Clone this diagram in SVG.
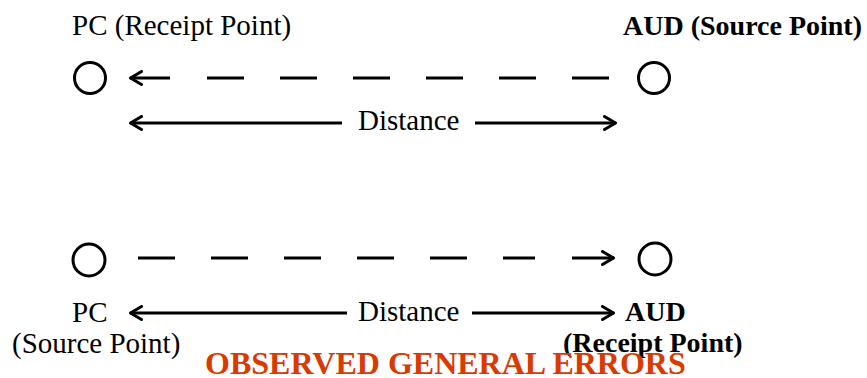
<svg xmlns="http://www.w3.org/2000/svg" width="867" height="378" viewBox="0 0 867 378">
<defs>
<style>
.t{font-family:"Liberation Serif","Times New Roman",serif;font-size:29px;fill:#000}
.b{font-weight:bold;font-size:28px}
.title{font-family:"Liberation Serif","Times New Roman",serif;font-weight:bold;font-size:32px;fill:#d93a00}
.node{fill:none;stroke:#000;stroke-width:3}
.ln{stroke:#000;stroke-width:3;fill:none}
.dash{stroke:#000;stroke-width:3;fill:none;stroke-dasharray:37 36}
</style>
<marker id="ah" viewBox="0 0 14 16" refX="13" refY="8" markerWidth="14" markerHeight="16" markerUnits="userSpaceOnUse" orient="auto">
<path d="M1.5,1.5 L12.5,8 L1.5,14.5" fill="none" stroke="#000" stroke-width="3" stroke-linecap="round" stroke-linejoin="round"/>
</marker>
</defs>
<rect width="867" height="378" fill="#fff"/>
<g id="pc-top">
<circle class="node" cx="90" cy="78" r="15.5"/>
<text class="t" x="72" y="35">PC (Receipt Point)</text>
</g>
<g id="aud-top">
<circle class="node" cx="654" cy="78" r="15.5"/>
<text class="t b" x="623" y="35">AUD (Source Point)</text>
</g>
<g id="pc-bottom">
<circle class="node" cx="89" cy="260" r="16"/>
<text class="t" x="72" y="322">PC</text>
<text class="t" x="12" y="353">(Source Point)</text>
</g>
<g id="aud-bottom">
<circle class="node" cx="655" cy="259" r="16"/>
<text class="t b" x="625" y="321">AUD</text>
<text class="t b" x="563" y="352">(Receipt Point)</text>
</g>
<g id="connectors">
<line class="ln" x1="170" y1="78" x2="130" y2="78" marker-end="url(#ah)"/>
<line class="dash" x1="207" y1="78" x2="609" y2="78"/>
<line class="ln" x1="342" y1="123" x2="130" y2="123" marker-end="url(#ah)"/>
<line class="ln" x1="475" y1="123" x2="616" y2="123" marker-end="url(#ah)"/>
<line class="dash" x1="138" y1="258" x2="535" y2="258"/>
<line class="ln" x1="572" y1="258" x2="614" y2="258" marker-end="url(#ah)"/>
<line class="ln" x1="347" y1="313" x2="130" y2="313" marker-end="url(#ah)"/>
<line class="ln" x1="472" y1="313" x2="614" y2="313" marker-end="url(#ah)"/>
</g>
<g id="labels">
<text class="t" x="358" y="130">Distance</text>
<text class="t" x="358" y="321">Distance</text>
<text class="title" x="205" y="374">OBSERVED GENERAL ERRORS</text>
</g>
</svg>
